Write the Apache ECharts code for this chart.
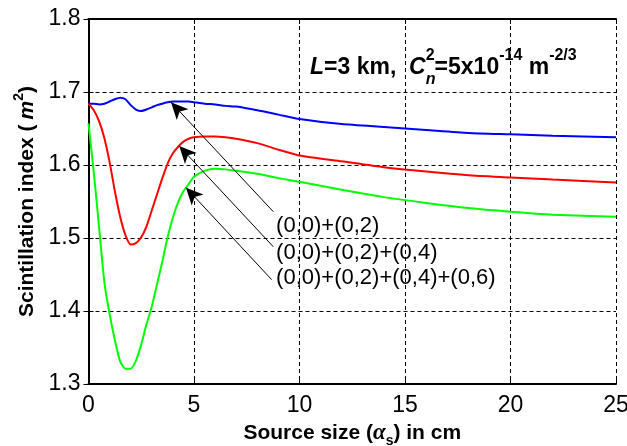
<!DOCTYPE html>
<html>
<head>
<meta charset="utf-8">
<script src="https://cdn.jsdelivr.net/npm/echarts@6/dist/echarts.min.js"></script>
<style>
  html, body { margin: 0; padding: 0; background: #fff; }
  #chart { width: 627px; height: 446px; }
</style>
</head>
<body>
<div id="chart"></div>
<script>
  // source size in cm
  const sourceSize = [0, 0.25, 0.5, 0.75, 1, 1.25, 1.5, 1.75, 2, 2.25, 2.5, 2.75, 3, 3.25, 3.5, 3.75,
    4, 4.25, 4.5, 4.75, 5, 5.5, 6, 6.5, 7, 8, 9, 10, 12, 14, 16, 18, 20, 22, 25];
  // (0,0)+(0,2)
  const sumTwo = [1.684, 1.684, 1.683, 1.684, 1.687, 1.690, 1.692, 1.690, 1.682, 1.676, 1.674, 1.676,
    1.679, 1.682, 1.684, 1.686, 1.687, 1.687, 1.687, 1.687, 1.686, 1.684, 1.683, 1.681, 1.680, 1.675,
    1.669, 1.663, 1.656, 1.652, 1.648, 1.644, 1.642, 1.640, 1.638];
  // (0,0)+(0,2)+(0,4)
  const sumThree = [1.684, 1.675, 1.660, 1.637, 1.604, 1.564, 1.529, 1.504, 1.491, 1.493, 1.501, 1.516,
    1.538, 1.560, 1.582, 1.602, 1.616, 1.625, 1.632, 1.636, 1.638, 1.639, 1.639, 1.638, 1.636, 1.630,
    1.621, 1.613, 1.605, 1.597, 1.591, 1.586, 1.583, 1.580, 1.576];
  // (0,0)+(0,2)+(0,4)+(0,6)
  const sumFour = [1.657, 1.590, 1.515, 1.440, 1.396, 1.360, 1.331, 1.321, 1.321, 1.332, 1.354, 1.382,
    1.406, 1.437, 1.468, 1.501, 1.528, 1.549, 1.564, 1.574, 1.584, 1.592, 1.595, 1.594, 1.592, 1.588,
    1.582, 1.577, 1.566, 1.556, 1.548, 1.541, 1.536, 1.532, 1.529];

  const xTicks = [0, 25, 5];      // min, max, step
  const yTicks = [1.3, 1.8, 0.1];

  const curveNames = ['(0,0)+(0,2)', '(0,0)+(0,2)+(0,4)', '(0,0)+(0,2)+(0,4)+(0,6)'];
  const curveColors = ['#0000ff', '#ff0000', '#00ff00'];
  // annotation arrows (data coords): tail near label, head on the curve
  const arrowTail = [[8.76, 1.536], [8.76, 1.488], [8.68, 1.443]];
  const arrowHead = [[3.91, 1.686], [4.30, 1.626], [4.62, 1.569]];
  const labelAt = [[8.89, 1.517], [8.89, 1.480], [8.89, 1.445]];

  const font = 'Liberation Sans, Arial, sans-serif';
  const curves = [sumTwo, sumThree, sumFour];

  const series = curves.map((vals, i) => ({
    name: curveNames[i],
    type: 'line',
    data: sourceSize.map((x, k) => [x, vals[k]]),
    showSymbol: false,
    smooth: 0.2,
    lineStyle: { color: curveColors[i], width: 2 },
    itemStyle: { color: curveColors[i] },
    z: 3,
    markLine: {
      silent: true,
      animation: false,
      symbol: ['none', 'arrow'],
      symbolSize: [12, 17],
      lineStyle: { color: '#000', width: 1, type: 'solid' },
      label: { show: false },
      data: [[{ coord: arrowTail[i] }, { coord: arrowHead[i] }]],
    },
    markPoint: {
      silent: true,
      animation: false,
      symbol: 'circle',
      symbolSize: 0,
      label: {
        show: true,
        position: 'right',
        distance: 0,
        color: '#000',
        fontFamily: font,
        fontSize: 22,
        formatter: () => curveNames[i],
      },
      data: [{ coord: labelAt[i] }],
    },
  }));

  const chart = echarts.init(document.getElementById('chart'));

  const baseX = {
    type: 'value',
    min: xTicks[0],
    max: xTicks[1],
    interval: xTicks[2],
  };
  const baseY = {
    type: 'value',
    min: yTicks[0],
    max: yTicks[1],
    interval: yTicks[2],
  };

  const option = {
    animation: false,
    backgroundColor: '#fff',
    grid: { left: 88.5, right: 11, top: 19, bottom: 62, containLabel: false, outerBoundsMode: 'none' },
    xAxis: [
      Object.assign({}, baseX, {
        position: 'bottom',
        axisLine: { show: true, lineStyle: { color: '#000', width: 2 } },
        axisTick: { show: true, inside: true, length: 5, lineStyle: { color: '#000' } },
        axisLabel: { color: '#000', fontFamily: font, fontSize: 23, margin: 10 },
        splitLine: { show: true, lineStyle: { color: '#000', type: [4, 3], width: 1 } },
        name: '{t|Source size (}{a|α}{s|s}{t|) in cm}',
        nameLocation: 'middle',
        nameGap: 32,
        nameTextStyle: {
          rich: {
            t: { fontFamily: font, fontWeight: 'bold', fontSize: 21, color: '#000', lineHeight: 30 },
            a: { fontFamily: 'Liberation Serif, serif', fontStyle: 'italic', fontWeight: 'bold', fontSize: 23, color: '#000', lineHeight: 30 },
            s: { fontFamily: font, fontWeight: 'bold', fontSize: 14, color: '#000', lineHeight: 14, verticalAlign: 'bottom' },
          },
        },
      }),
      Object.assign({}, baseX, {
        position: 'top',
        axisLine: { show: true, lineStyle: { color: '#000', width: 2 } },
        axisTick: { show: true, inside: true, length: 5, lineStyle: { color: '#000' } },
        axisLabel: { show: false },
        splitLine: { show: false },
      }),
    ],
    yAxis: [
      Object.assign({}, baseY, {
        position: 'left',
        axisLine: { show: true, lineStyle: { color: '#000', width: 2 } },
        axisTick: { show: true, inside: true, length: 5, lineStyle: { color: '#000' } },
        axisLabel: {
          color: '#000', fontFamily: font, fontSize: 23, margin: 8,
          formatter: (v) => v.toFixed(1),
        },
        splitLine: { show: true, lineStyle: { color: '#000', type: [4, 3], width: 1 } },
        name: '{t|Scintillation index (}{m|m}{p|2}{t|)}',
        nameLocation: 'middle',
        nameRotate: 90,
        nameGap: 45,
        nameTextStyle: {
          rich: {
            t: { fontFamily: font, fontWeight: 'bold', fontSize: 21, color: '#000', lineHeight: 30 },
            m: { fontFamily: font, fontWeight: 'bold', fontStyle: 'italic', fontSize: 21, color: '#000', lineHeight: 30, padding: [0, 0, 0, 5] },
            p: { fontFamily: font, fontWeight: 'bold', fontSize: 14, color: '#000', lineHeight: 14, verticalAlign: 'top' },
          },
        },
      }),
      Object.assign({}, baseY, {
        position: 'right',
        axisLine: { show: true, lineStyle: { color: '#000', width: 2 } },
        axisTick: { show: true, inside: true, length: 5, lineStyle: { color: '#000' } },
        axisLabel: { show: false },
        splitLine: { show: false },
      }),
    ],
    graphic: [
      {
        type: 'text',
        x: 310,
        y: 68,
        z: 10,
        style: {
          text: '{i|L}{b|=3 km,  }{i|C}{n|n}{p|2}{b|=5x10}{p|-14}{b| m}{p|-2/3}',
          verticalAlign: 'middle',
          rich: {
            b: { fontFamily: font, fontWeight: 'bold', fontSize: 23, fill: '#000', lineHeight: 40 },
            i: { fontFamily: font, fontWeight: 'bold', fontStyle: 'italic', fontSize: 23, fill: '#000', lineHeight: 40 },
            p: { fontFamily: font, fontWeight: 'bold', fontSize: 16, fill: '#000', lineHeight: 18, verticalAlign: 'top' },
            n: { fontFamily: font, fontWeight: 'bold', fontStyle: 'italic', fontSize: 16, fill: '#000', lineHeight: 18, verticalAlign: 'bottom', width: 0 },
          },
        },
      },
    ],
    series: series,
  };

  chart.setOption(option);
</script>
</body>
</html>
